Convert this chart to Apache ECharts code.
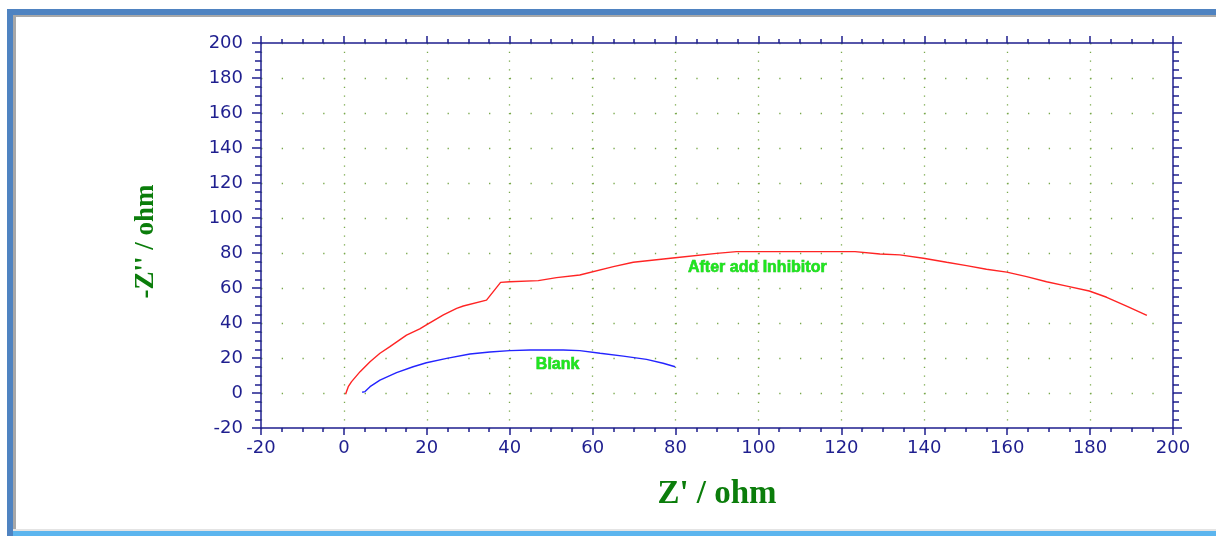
<!DOCTYPE html>
<html>
<head>
<meta charset="utf-8">
<script src="https://cdn.jsdelivr.net/npm/echarts@6/dist/echarts.min.js"></script>
<style>html,body{margin:0;padding:0;background:#fff;}#c{width:1216px;height:536px;}</style>
</head>
<body>
<div id="c"></div>
<script>
// Red curve: After add Inhibitor  [Z', -Z'']
const inhibitorX = [0.4, 1.05, 1.85, 3.9, 6.3, 8.7, 11.1, 15.1, 18.3, 19.9, 24, 27.2, 28.8, 34.4, 37.8, 40, 46.9, 51.3, 56.9, 65, 69.8, 79.9, 89.9, 94.7, 99.6, 123.3, 129.3, 134.1, 139.8, 145.4, 150.2, 155, 159.9, 164.7, 169.5, 174.4, 179.8, 184, 188.8, 193.7];
const inhibitorY = [-0.7, 3.6, 6.5, 12.2, 17.9, 22.7, 26.5, 33.1, 36.6, 38.9, 44.6, 48.4, 49.7, 53.1, 63.2, 63.6, 64.2, 65.9, 67.4, 72.2, 74.7, 77.3, 79.8, 80.8, 80.8, 80.8, 79.4, 78.9, 77, 74.7, 72.8, 70.7, 69.1, 66.5, 63.6, 61.1, 58.3, 54.7, 49.7, 44.4];
// Blue curve: Blank
const blankX = [4.4, 5.1, 6.3, 8.7, 12.7, 16.7, 19.9, 24.8, 30.4, 35.2, 40, 44.9, 52.9, 56.9, 61.8, 67.4, 73, 77, 79.9];
const blankY = [0.4, 0.8, 3.6, 7.4, 11.6, 15, 17.3, 19.8, 22.3, 23.4, 24.2, 24.6, 24.6, 24.2, 22.7, 21.1, 19.2, 17, 15];
// Curve annotations
const seriesNames = ['After add Inhibitor', 'Blank'];
const labelX = [83, 46.3];
const labelY = [71.6, 16.4];
// Axes
const xMin = -20, xMax = 200, xStep = 20;
const yMin = -20, yMax = 200, yStep = 20;
const xTitle = "Z' / ohm";
const yTitle = "-Z'' / ohm";

const zip = (a, b) => a.map((v, i) => [v, b[i]]);
const AX = '#1f1f8f';
const GRIDC = '#78a84a';
const chart = echarts.init(document.getElementById('c'));

function xAxisCfg(pos, showLabel) {
  return {
    type: 'value', position: pos, min: xMin, max: xMax, interval: xStep,
    axisLine: { show: true, onZero: false, lineStyle: { color: AX, width: 1.5 } },
    axisTick: { show: true, length: 7, lineStyle: { color: AX, width: 1.5 } },
    minorTick: { show: true, splitNumber: 4, length: 4, lineStyle: { color: AX, width: 1.5 } },
    axisLabel: { show: showLabel, color: AX, fontFamily: 'DejaVu Sans', fontSize: 18, margin: 11 },
    splitLine: { show: showLabel, lineStyle: { color: GRIDC, width: 1.3, type: [1.3, 7.45] } },
    name: showLabel ? xTitle : '', nameLocation: 'middle', nameGap: 50,
    nameTextStyle: { color: '#0b7d0b', fontFamily: 'Liberation Serif', fontWeight: 'bold', fontSize: 33 }
  };
}
function yAxisCfg(pos, showLabel) {
  return {
    type: 'value', position: pos, min: yMin, max: yMax, interval: yStep,
    axisLine: { show: true, onZero: false, lineStyle: { color: AX, width: 1.5 } },
    axisTick: { show: true, length: 9, lineStyle: { color: AX, width: 1.5 } },
    minorTick: { show: true, splitNumber: 4, length: 6, lineStyle: { color: AX, width: 1.5 } },
    axisLabel: { show: showLabel, color: AX, fontFamily: 'DejaVu Sans', fontSize: 18, margin: 18 },
    splitLine: { show: showLabel, lineStyle: { color: GRIDC, width: 1.3, type: [1.3, 19.43] } },
    name: showLabel ? yTitle : '', nameLocation: 'middle', nameGap: 101, nameRotate: 90,
    nameTextStyle: { color: '#0b7d0b', fontFamily: 'Liberation Serif', fontWeight: 'bold', fontSize: 27,
      padding: [0, 12, 0, 0] }
  };
}
chart.setOption({
  animation: false,
  backgroundColor: '#fff',
  grid: { left: 261, right: 43, top: 43, bottom: 108 },
  xAxis: [xAxisCfg('bottom', true), xAxisCfg('top', false)],
  yAxis: [yAxisCfg('left', true), yAxisCfg('right', false)],
  graphic: [
    { type: 'rect', shape: { x: 7, y: 9, width: 1209, height: 6 }, style: { fill: '#4f83c1' }, silent: true },
    { type: 'rect', shape: { x: 7, y: 9, width: 6, height: 527 }, style: { fill: '#4f83c1' }, silent: true },
    { type: 'rect', shape: { x: 13, y: 15, width: 1203, height: 2 }, style: { fill: '#a8a8a8' }, silent: true },
    { type: 'rect', shape: { x: 13, y: 15, width: 3, height: 515 }, style: { fill: '#a8a8a8' }, silent: true },
    { type: 'rect', shape: { x: 13, y: 529, width: 1203, height: 2 }, style: { fill: '#e4e4e4' }, silent: true },
    { type: 'rect', shape: { x: 13, y: 531, width: 1203, height: 5 }, style: { fill: '#5cb5ee' }, silent: true }
  ],
  series: [
    { name: seriesNames[0], type: 'line', data: zip(inhibitorX, inhibitorY), showSymbol: false, smooth: false,
      lineStyle: { color: '#ff2424', width: 1.4 } },
    { name: seriesNames[1], type: 'line', data: zip(blankX, blankY), showSymbol: false, smooth: false,
      lineStyle: { color: '#2424ff', width: 1.4 } },
    { name: 'labels', type: 'scatter', silent: true, symbolSize: 0,
      itemStyle: { opacity: 1 },
      data: seriesNames.map((n, i) => ({ value: [labelX[i], labelY[i]], name: n })),
      label: { show: true, position: 'right', distance: 0, formatter: p => p.name,
        color: '#1ee61e', textBorderColor: '#27b827', textBorderWidth: 0.6,
        fontFamily: 'Liberation Sans', fontWeight: 'bold', fontSize: 16 } }
  ]
});
</script>
</body>
</html>
